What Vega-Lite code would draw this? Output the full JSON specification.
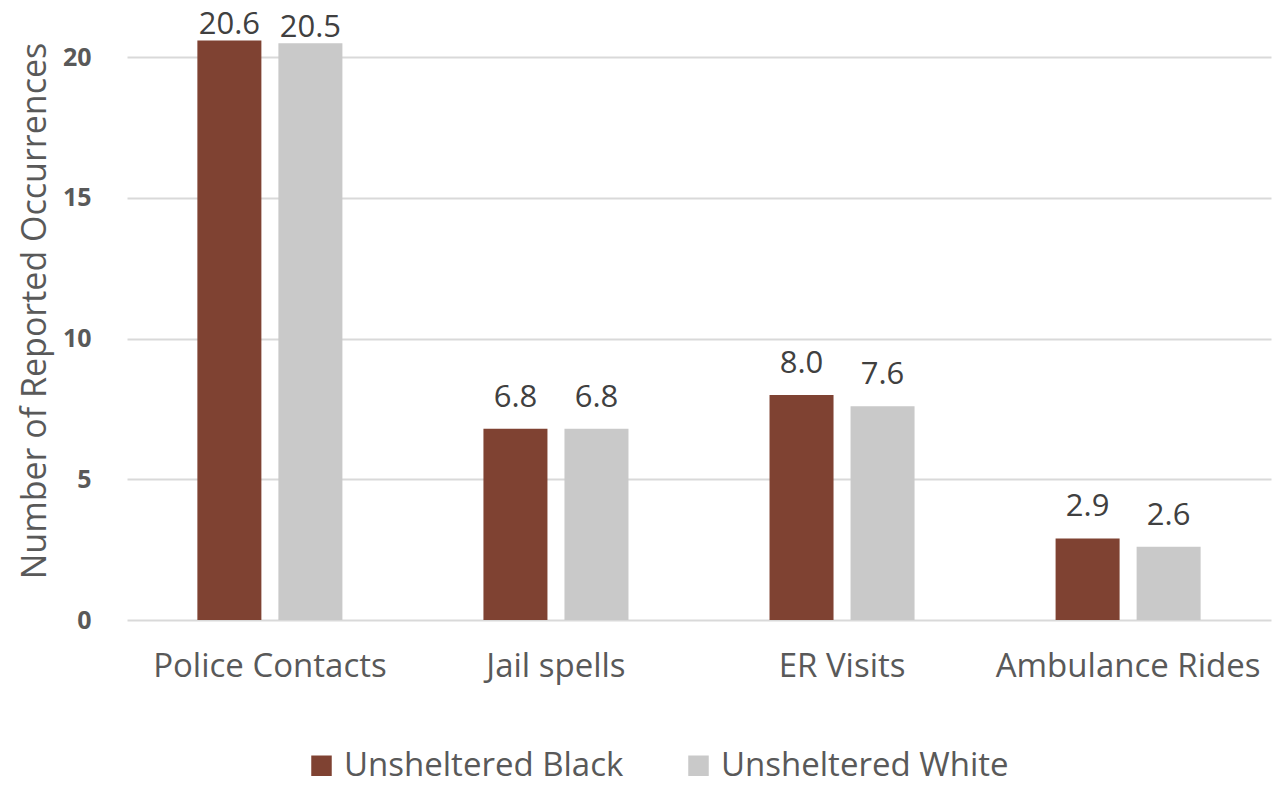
{
  "$schema": "https://vega.github.io/schema/vega-lite/v6.json",
  "autosize": "none",
  "width": 1144,
  "height": 619,
  "padding": {"left": 127, "top": 1, "right": 15, "bottom": 165},
  "background": "white",
  "config": {
    "view": {"stroke": null},
    "font": "Open Sans"
  },
  "data": {
    "values": [
      {"category": "Police Contacts", "group": "Unsheltered Black", "value": 20.6},
      {"category": "Police Contacts", "group": "Unsheltered White", "value": 20.5},
      {"category": "Jail spells", "group": "Unsheltered Black", "value": 6.8},
      {"category": "Jail spells", "group": "Unsheltered White", "value": 6.8},
      {"category": "ER Visits", "group": "Unsheltered Black", "value": 8.0},
      {"category": "ER Visits", "group": "Unsheltered White", "value": 7.6},
      {"category": "Ambulance Rides", "group": "Unsheltered Black", "value": 2.9},
      {"category": "Ambulance Rides", "group": "Unsheltered White", "value": 2.6}
    ]
  },
  "encoding": {
    "x": {
      "field": "category",
      "type": "nominal",
      "sort": ["Police Contacts", "Jail spells", "ER Visits", "Ambulance Rides"],
      "scale": {"paddingInner": 0.493, "paddingOuter": 0.246},
      "axis": {
        "title": null,
        "labelAngle": 0,
        "labelFontSize": 33,
        "labelLimit": 0,
        "labelColor": "#595959",
        "labelPadding": 30,
        "ticks": false,
        "domain": false
      }
    },
    "xOffset": {
      "field": "group",
      "type": "nominal",
      "scale": {"paddingInner": 0.21, "paddingOuter": 0}
    },
    "y": {
      "field": "value",
      "type": "quantitative",
      "scale": {"domain": [0, 22]},
      "axis": {
        "values": [0, 5, 10, 15, 20],
        "title": "Number of Reported Occurrences",
        "titleFontSize": 34,
        "titleFontWeight": "normal",
        "titleColor": "#595959",
        "titlePadding": 10,
        "labelFontSize": 25,
        "labelFontWeight": "bold",
        "labelColor": "#595959",
        "labelPadding": 36,
        "ticks": false,
        "domain": false,
        "gridColor": "#d9d9d9",
        "gridWidth": 2
      }
    }
  },
  "layer": [
    {
      "mark": {"type": "bar"},
      "encoding": {
        "color": {
          "field": "group",
          "type": "nominal",
          "scale": {"domain": ["Unsheltered Black", "Unsheltered White"], "range": ["#7f4232", "#c9c9c9"]},
          "legend": {
            "title": null,
            "orient": "none",
            "direction": "horizontal",
            "legendX": 178,
            "legendY": 748,
            "symbolType": "square",
            "symbolSize": 420,
            "symbolStrokeWidth": 0,
            "labelFontSize": 33,
            "labelLimit": 0,
            "labelColor": "#595959",
            "labelOffset": 6,
            "columnPadding": 58
          }
        }
      }
    },
    {
      "transform": [{"filter": "datum.value <= 20"}],
      "mark": {"type": "text", "baseline": "alphabetic", "dy": -22, "fontSize": 31, "color": "#404040"},
      "encoding": {
        "text": {"field": "value", "type": "quantitative", "format": ".1f"}
      }
    },
    {
      "transform": [{"filter": "datum.value > 20"}],
      "mark": {"type": "text", "baseline": "alphabetic", "dy": -6, "fontSize": 31, "color": "#404040"},
      "encoding": {
        "text": {"field": "value", "type": "quantitative", "format": ".1f"}
      }
    }
  ]
}
